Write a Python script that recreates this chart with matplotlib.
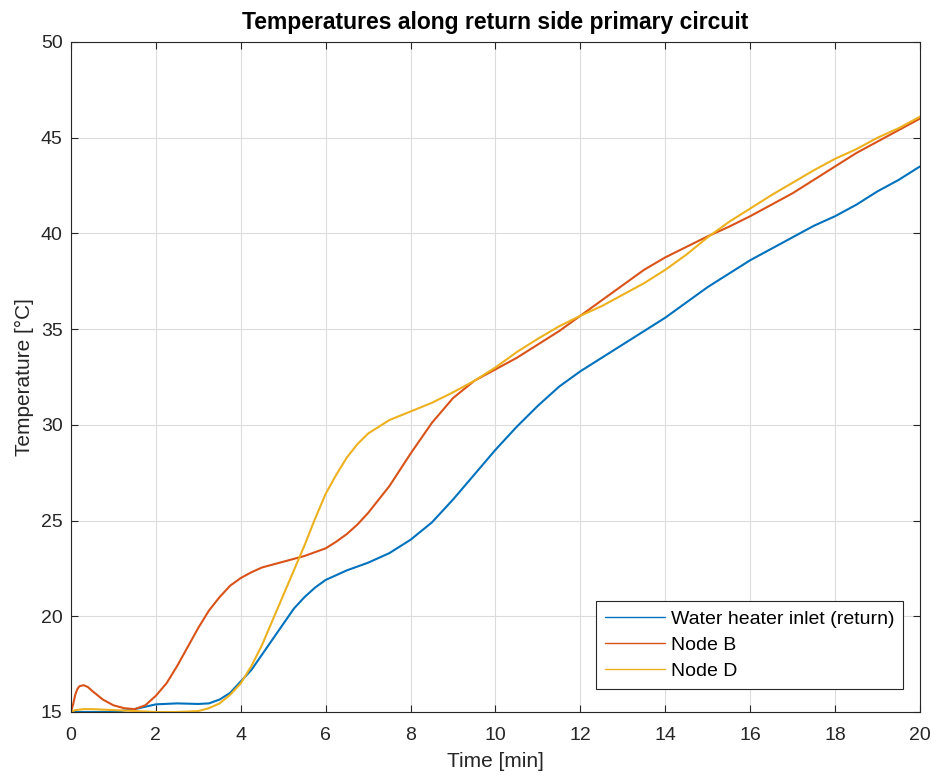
import matplotlib.pyplot as plt

# time [min] and temperatures [degC]
t_blue = [0, 1, 1.5, 2, 2.5, 3, 3.25, 3.5, 3.75, 4, 4.25, 4.5, 4.75, 5, 5.25, 5.5, 5.75, 6,
          6.5, 7, 7.5, 8, 8.5, 9, 9.5, 10, 10.5, 11, 11.5, 12, 12.5, 13, 13.5, 14, 14.5,
          15, 15.5, 16, 16.5, 17, 17.5, 18, 18.5, 19, 19.5, 20]
inlet = [15.0, 15.0, 15.15, 15.4, 15.45, 15.42, 15.45, 15.65, 16.0, 16.6, 17.2, 18.0, 18.8,
         19.6, 20.4, 21.0, 21.5, 21.9, 22.4, 22.8, 23.3, 24.0, 24.9, 26.1, 27.4, 28.7, 29.9,
         31.0, 32.0, 32.8, 33.5, 34.2, 34.9, 35.6, 36.4, 37.2, 37.9, 38.6, 39.2, 39.8, 40.4,
         40.9, 41.5, 42.2, 42.8, 43.5]

t_red = [0, 0.05, 0.1, 0.15, 0.2, 0.3, 0.4, 0.5, 0.75, 1, 1.25, 1.5, 1.75, 2, 2.25, 2.5,
         2.75, 3, 3.25, 3.5, 3.75, 4, 4.25, 4.5, 5, 5.5, 6, 6.25, 6.5, 6.75, 7, 7.5, 8, 8.5,
         9, 9.5, 10, 10.5, 11, 11.5, 12, 12.5, 13, 13.5, 14, 14.5, 15, 15.5, 16, 16.5, 17,
         17.5, 18, 18.5, 19, 19.5, 20]
node_b = [15.0, 15.4, 15.9, 16.2, 16.35, 16.4, 16.3, 16.1, 15.65, 15.35, 15.2, 15.15, 15.35,
          15.85, 16.5, 17.4, 18.4, 19.4, 20.3, 21.0, 21.6, 22.0, 22.3, 22.55, 22.85, 23.15,
          23.55, 23.9, 24.3, 24.8, 25.4, 26.8, 28.5, 30.1, 31.4, 32.3, 32.9, 33.5, 34.2, 34.9,
          35.7, 36.5, 37.3, 38.1, 38.75, 39.3, 39.85, 40.35, 40.9, 41.5, 42.1, 42.8, 43.5,
          44.2, 44.8, 45.4, 46.0]

t_yel = [0, 0.1, 0.3, 0.5, 1, 1.5, 2, 2.5, 3, 3.25, 3.5, 3.75, 4, 4.25, 4.5, 4.75, 5, 5.25,
         5.5, 5.75, 6, 6.25, 6.5, 6.75, 7, 7.5, 8, 8.5, 9, 9.5, 10, 10.5, 11, 11.5, 12, 12.5,
         13, 13.5, 14, 14.5, 15, 15.5, 16, 16.5, 17, 17.5, 18, 18.5, 19, 19.5, 20]
node_d = [15.0, 15.1, 15.15, 15.15, 15.1, 15.05, 15.0, 15.0, 15.05, 15.2, 15.45, 15.9, 16.5,
          17.4, 18.5, 19.8, 21.1, 22.4, 23.7, 25.1, 26.4, 27.4, 28.3, 29.0, 29.55, 30.25,
          30.7, 31.15, 31.7, 32.3, 33.0, 33.8, 34.5, 35.15, 35.7, 36.2, 36.8, 37.4, 38.1,
          38.9, 39.8, 40.6, 41.3, 42.0, 42.65, 43.3, 43.9, 44.4, 45.0, 45.5, 46.1]

plt.rcParams['font.family'] = ['Liberation Sans', 'DejaVu Sans']

fig = plt.figure(figsize=(9.37, 7.79), dpi=100)
ax = fig.add_axes([71 / 937, 67 / 779, 849 / 937, 670 / 779])

kw = dict(lw=1.5, solid_joinstyle='round', solid_capstyle='round')
ax.plot(t_blue, inlet, color='#0072BD', label='Water heater inlet (return)', **kw)
ax.plot(t_red, node_b, color='#D95319', label='Node B', **kw)
ax.plot(t_yel, node_d, color='#EDB120', label='Node D', **kw)

ax.set_xlim(0, 20)
ax.set_ylim(15, 50)
ax.set_xticks(range(0, 21, 2))
ax.set_yticks(range(15, 51, 5))
ax.grid(True, color='#dcdcdc', lw=0.8)
ax.set_axisbelow(True)
ax.tick_params(direction='in', top=True, right=True, labelsize=14, length=5, color='#262626',
               labelcolor='#262626')
ax.tick_params(axis='y', pad=6)
ax.tick_params(axis='x', pad=10.5)
for s in ax.spines.values():
    s.set_color('#262626')
    s.set_linewidth(0.8)

ax.set_xlabel('Time [min]', fontsize=15, color='#262626', labelpad=6)
ax.set_ylabel('Temperature [°C]', fontsize=15, color='#262626', labelpad=5)
ax.set_title('Temperatures along return side primary circuit', fontsize=16.5,
             fontweight='bold', pad=9)

leg = ax.legend(loc='lower right', fontsize=14, fancybox=False, framealpha=1,
                edgecolor='#262626', handlelength=3.1, borderpad=0.45, labelspacing=0.45,
                handletextpad=0.3, borderaxespad=0, bbox_to_anchor=(0.98, 0.0343))
leg.get_frame().set_linewidth(0.8)
for line in leg.get_lines():
    line.set_linewidth(1.0)

fig.savefig('out.png', dpi=100)
